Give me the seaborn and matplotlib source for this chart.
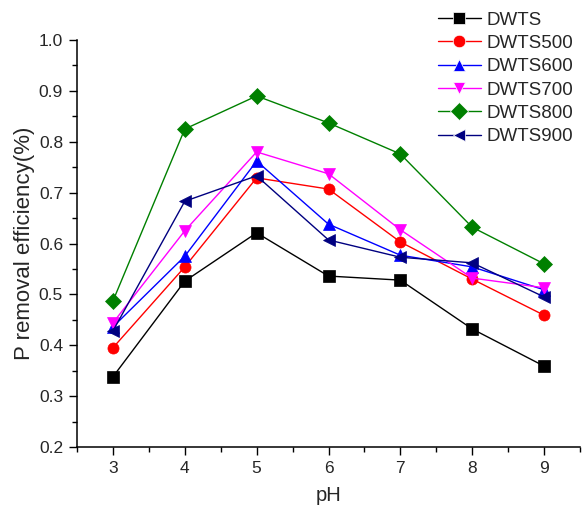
import matplotlib
matplotlib.use("Agg")
import matplotlib.pyplot as plt
import seaborn as sns
import pandas as pd
from matplotlib.ticker import MultipleLocator

ph = [3, 4, 5, 6, 7, 8, 9]
dwts = [0.338, 0.526, 0.621, 0.536, 0.528, 0.432, 0.359]
dwts500 = [0.395, 0.554, 0.729, 0.707, 0.603, 0.530, 0.459]
dwts600 = [0.436, 0.575, 0.762, 0.638, 0.577, 0.554, 0.509]
dwts700 = [0.444, 0.625, 0.780, 0.737, 0.627, 0.532, 0.513]
dwts800 = [0.487, 0.825, 0.890, 0.837, 0.776, 0.632, 0.560]
dwts900 = [0.428, 0.683, 0.733, 0.607, 0.573, 0.562, 0.495]

names = ["DWTS", "DWTS500", "DWTS600", "DWTS700", "DWTS800", "DWTS900"]
series = [dwts, dwts500, dwts600, dwts700, dwts800, dwts900]
colors = ["#000000", "#ff0000", "#0000ff", "#ff00ff", "#008000", "#000080"]
markers = ["s", "o", "^", "v", "D", "<"]

rows = []
for n, vals in zip(names, series):
    for x, v in zip(ph, vals):
        rows.append({"pH": x, "eff": v, "sample": n})
df = pd.DataFrame(rows)

sns.set_style("ticks")
plt.rcParams["font.family"] = ["Liberation Sans", "DejaVu Sans"]

fig = plt.figure(figsize=(5.86, 5.13), dpi=100)
ax = fig.add_axes([77/586, 66/513, 503/586, 407/513])

sns.lineplot(data=df, x="pH", y="eff", hue="sample", style="sample",
             hue_order=names, style_order=names,
             palette=dict(zip(names, colors)),
             markers=dict(zip(names, markers)), dashes=False,
             linewidth=1.0, markersize=8, markeredgewidth=0.5, ax=ax)

for line, c, m in zip(ax.lines, colors, markers):
    line.set_markeredgecolor(c)
    if m in ("^", "v", "<"):
        line.set_markersize(9)

ax.set_xlim(2.5, 9.5)
ax.set_ylim(0.2, 1.0)
ax.xaxis.set_major_locator(MultipleLocator(1))
ax.xaxis.set_minor_locator(MultipleLocator(0.5))
ax.yaxis.set_minor_locator(MultipleLocator(0.05))
ax.set_yticks([0.2, 0.3, 0.4, 0.5, 0.6, 0.7, 0.8, 0.9, 1.0])
ax.set_yticklabels(["0.2", "0.3", "0.4", "0.5", "0.6", "0.7", "0.8", "0.9", "1.0"])
ax.tick_params(which="major", direction="out", length=6, width=1, labelsize=12.5, color="black", pad=4)
ax.tick_params(which="minor", direction="out", length=3.5, width=1, color="black")
for s in ["top", "right"]:
    ax.spines[s].set_visible(False)
for s in ["left", "bottom"]:
    ax.spines[s].set_linewidth(1.1)
    ax.spines[s].set_color("black")

ax.set_xlabel("pH", fontsize=14.5, labelpad=7)
ax.set_ylabel("P removal efficiency(%)", fontsize=16, labelpad=3)

handles, labels = ax.get_legend_handles_labels()
for h in handles:
    h.set_markersize(9)
ax.legend(handles, labels, loc="upper left", bbox_to_anchor=(430/586, 1.0 - 4/513), bbox_transform=fig.transFigure,
          frameon=False, fontsize=13.5, handlelength=2.3, handletextpad=0.3, labelspacing=0.33,
          borderaxespad=0.0)

fig.savefig("out.png", dpi=100)
